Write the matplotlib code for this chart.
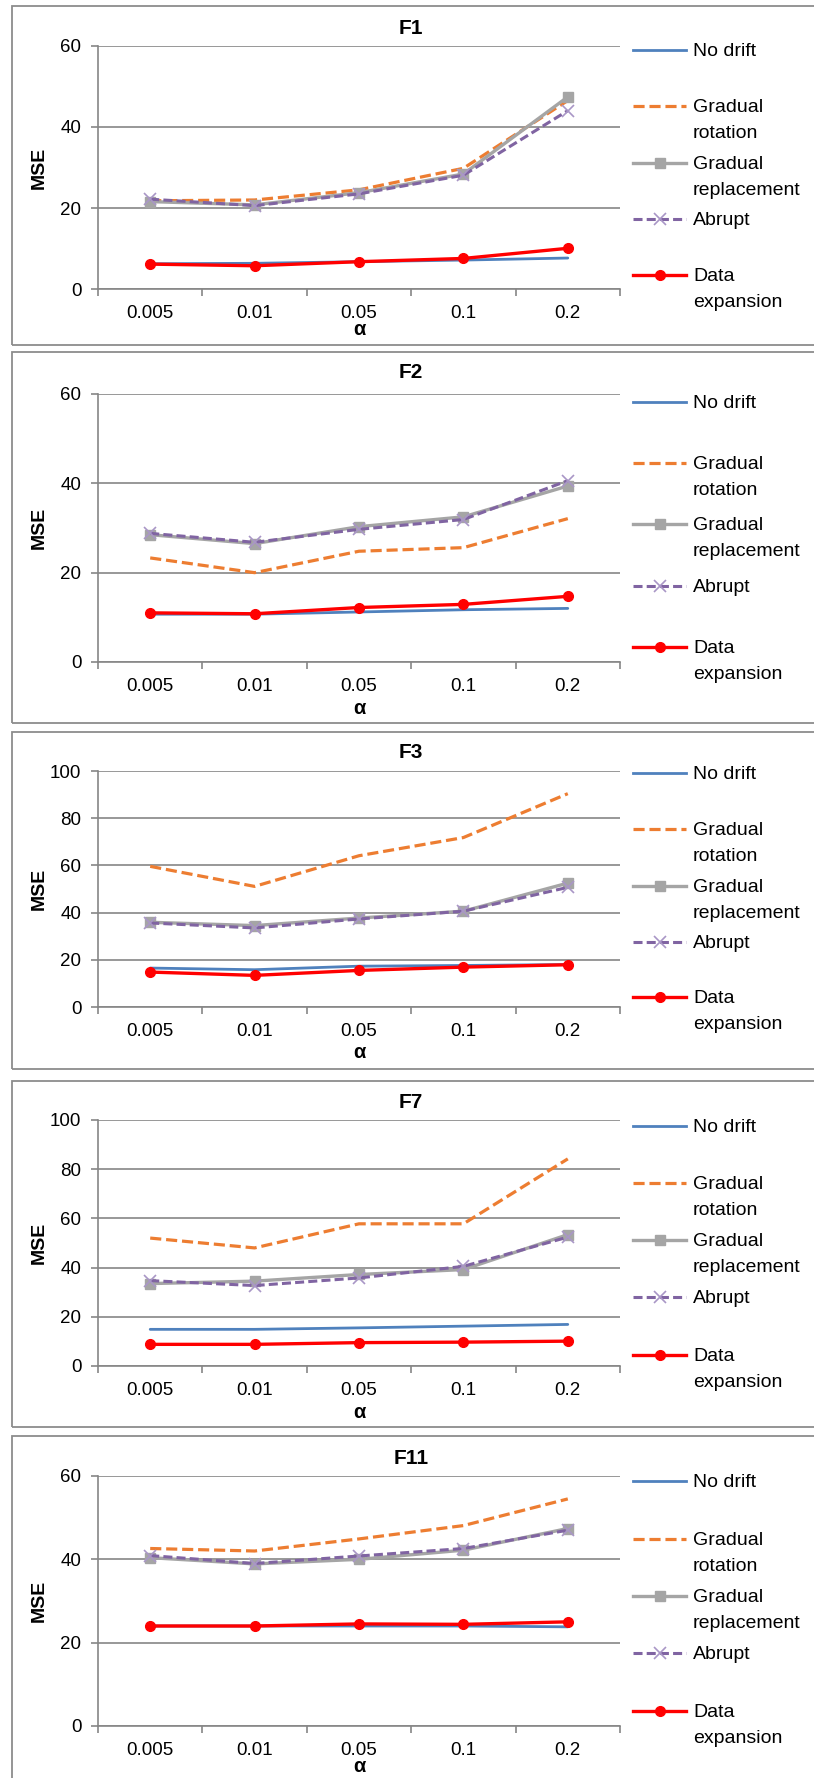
import numpy as np
import matplotlib
matplotlib.use("Agg")
import matplotlib.pyplot as plt
from matplotlib.lines import Line2D
from matplotlib.patches import Rectangle

plt.rcParams['font.family'] = ['Liberation Sans', 'DejaVu Sans']
plt.rcParams['lines.scale_dashes'] = False

# ---- data -------------------------------------------------------------
alphas = ["0.005", "0.01", "0.05", "0.1", "0.2"]
series_names = ["No drift", "Gradual rotation", "Gradual replacement",
                "Abrupt", "Data expansion"]
legend_labels = ["No drift", "Gradual\nrotation", "Gradual\nreplacement",
                 "Abrupt", "Data\nexpansion"]

f1_no_drift = [6.3, 6.4, 6.8, 7.2, 7.7]
f1_gradual_rotation = [21.8, 22.0, 24.5, 29.8, 46.5]
f1_gradual_replacement = [21.6, 20.8, 23.8, 28.4, 47.4]
f1_abrupt = [22.2, 20.6, 23.5, 28.1, 44.0]
f1_data_expansion = [6.2, 5.8, 6.8, 7.6, 10.1]

f2_no_drift = [10.7, 10.7, 11.2, 11.7, 12.0]
f2_gradual_rotation = [23.3, 20.0, 24.8, 25.6, 32.1]
f2_gradual_replacement = [28.5, 26.5, 30.3, 32.5, 39.4]
f2_abrupt = [28.8, 26.8, 29.7, 31.9, 40.6]
f2_data_expansion = [11.0, 10.8, 12.2, 12.9, 14.7]

f3_no_drift = [16.5, 15.8, 17.3, 17.6, 18.0]
f3_gradual_rotation = [59.6, 51.1, 64.1, 71.8, 90.4]
f3_gradual_replacement = [35.9, 34.5, 37.7, 40.6, 52.5]
f3_abrupt = [35.6, 33.5, 37.3, 40.6, 50.7]
f3_data_expansion = [14.8, 13.4, 15.5, 16.9, 17.9]

f7_no_drift = [14.9, 14.9, 15.5, 16.2, 16.9]
f7_gradual_rotation = [52.0, 48.0, 57.8, 57.8, 84.2]
f7_gradual_replacement = [33.5, 34.5, 37.2, 39.2, 53.4]
f7_abrupt = [34.7, 32.7, 35.8, 40.5, 52.4]
f7_data_expansion = [8.8, 8.8, 9.5, 9.7, 10.1]

f11_no_drift = [24.0, 24.0, 24.0, 24.0, 23.8]
f11_gradual_rotation = [42.6, 42.0, 44.9, 48.1, 54.5]
f11_gradual_replacement = [40.4, 38.9, 40.0, 42.2, 47.4]
f11_abrupt = [40.9, 39.0, 40.8, 42.6, 47.0]
f11_data_expansion = [24.0, 24.0, 24.5, 24.4, 25.0]

functions = ["F1", "F2", "F3", "F7", "F11"]
y_max = [60, 60, 100, 100, 60]
function_series = [
    [f1_no_drift, f1_gradual_rotation, f1_gradual_replacement, f1_abrupt, f1_data_expansion],
    [f2_no_drift, f2_gradual_rotation, f2_gradual_replacement, f2_abrupt, f2_data_expansion],
    [f3_no_drift, f3_gradual_rotation, f3_gradual_replacement, f3_abrupt, f3_data_expansion],
    [f7_no_drift, f7_gradual_rotation, f7_gradual_replacement, f7_abrupt, f7_data_expansion],
    [f11_no_drift, f11_gradual_rotation, f11_gradual_replacement, f11_abrupt, f11_data_expansion],
]

# ---- styles -----------------------------------------------------------
styles = [
    dict(color="#4F81BD", lw=2.0),
    dict(color="#ED7D31", lw=2.3, dashes=(8.0, 3.5)),
    dict(color="#A5A5A5", lw=2.4, marker="s", markersize=7,
         markerfacecolor="#A5A5A5", markeredgecolor="#A5A5A5"),
    dict(color="#8064A2", lw=2.2, dashes=(6.5, 3.0), marker="x", markersize=8,
         markeredgecolor="#A996C6", markeredgewidth=1.2),
    dict(color="#FF0000", lw=2.4, marker="o", markersize=7,
         markerfacecolor="#FF0000", markeredgecolor="#FF0000"),
]

GRID = "#868686"
FS = 13.5

# ---- layout (pixels from the top-left corner) -----------------------
W, H = 814, 1778
fig = plt.figure(figsize=(W / 100, H / 100), dpi=100)


def fx(x):
    return x / W


def fy(y):
    return 1 - y / H


ax_left, ax_right = 98, 620
panel_box = [(6, 345), (352, 723), (732, 1069), (1081, 1427), (1436, 1800)]
panel_axes = [(45.7, 289.3), (394, 662), (771, 1007), (1120, 1366), (1476, 1726)]
title_y = [29, 373, 752, 1102, 1458]
xlabel_y = [329, 708, 1053, 1412, 1767]
legend_y = [[50, 106, 163, 219, 275],
            [402, 463, 524, 586, 647],
            [773, 829, 886, 942, 997],
            [1126, 1183, 1240, 1297, 1355],
            [1481, 1539, 1596, 1653, 1711]]

x = np.arange(len(alphas))

for k, name in enumerate(functions):
    top, bottom = panel_box[k]
    fig.add_artist(Rectangle((fx(12), fy(bottom)), fx(840) - fx(12), (bottom - top) / H,
                             transform=fig.transFigure, fill=False,
                             ec="#8c8c8c", lw=1.3))

    a_top, a_bot = panel_axes[k]
    ax_h = a_bot - a_top
    ax = fig.add_axes([fx(ax_left), fy(a_bot), (ax_right - ax_left) / W, ax_h / H])
    ax.patch.set_alpha(0)

    for vals, st in zip(function_series[k], styles):
        ax.plot(x, vals, solid_capstyle="round", **st)

    ax.set_xlim(-0.5, len(alphas) - 0.5)
    ax.set_ylim(0, y_max[k])
    ax.set_yticks(np.arange(0, y_max[k] + 1, 20))
    ax.grid(axis="y", color=GRID, lw=1.2)
    ax.set_axisbelow(True)
    for side in ("top", "right"):
        ax.spines[side].set_visible(False)
    for side in ("left", "bottom"):
        ax.spines[side].set_color(GRID)
        ax.spines[side].set_linewidth(1.2)

    # category boundaries carry the tick marks, centres carry the labels
    ax.set_xticks(np.arange(-0.5, len(alphas), 1.0))
    ax.set_xticklabels([])
    ax.set_xticks(x, minor=True)
    ax.set_xticklabels(alphas, minor=True)
    ax.tick_params(axis="x", which="major", length=5, width=1.2, color=GRID, direction="out")
    ax.tick_params(axis="x", which="minor", length=0, pad=11.5, labelsize=FS)
    ax.tick_params(axis="y", length=5, width=1.2, color=GRID, pad=7, labelsize=FS)

    ax.set_xlabel("α", fontweight="bold", fontsize=14.5, va="center")
    ax.xaxis.set_label_coords(0.5, -(xlabel_y[k] - a_bot) / ax_h)
    ax.set_ylabel("MSE", fontweight="bold", fontsize=14, va="center")
    ax.yaxis.set_label_coords((39 - ax_left) / (ax_right - ax_left), 0.5)

    fig.text(fx(411), fy(title_y[k]), name, ha="center", va="center",
             fontweight="bold", fontsize=15)

    # legend
    for j, (lab, st) in enumerate(zip(legend_labels, styles)):
        ly = legend_y[k][j]
        line_kw = dict(st)
        if "marker" in line_kw:
            line_kw["markevery"] = [1]
        fig.add_artist(Line2D([fx(633), fx(659.5), fx(686)], [fy(ly)] * 3,
                              transform=fig.transFigure, **line_kw))
        fig.text(fx(693), fy(ly - 7), lab, ha="left", va="top",
                 fontsize=14, linespacing=1.7)

fig.savefig("out.png", dpi=100)
